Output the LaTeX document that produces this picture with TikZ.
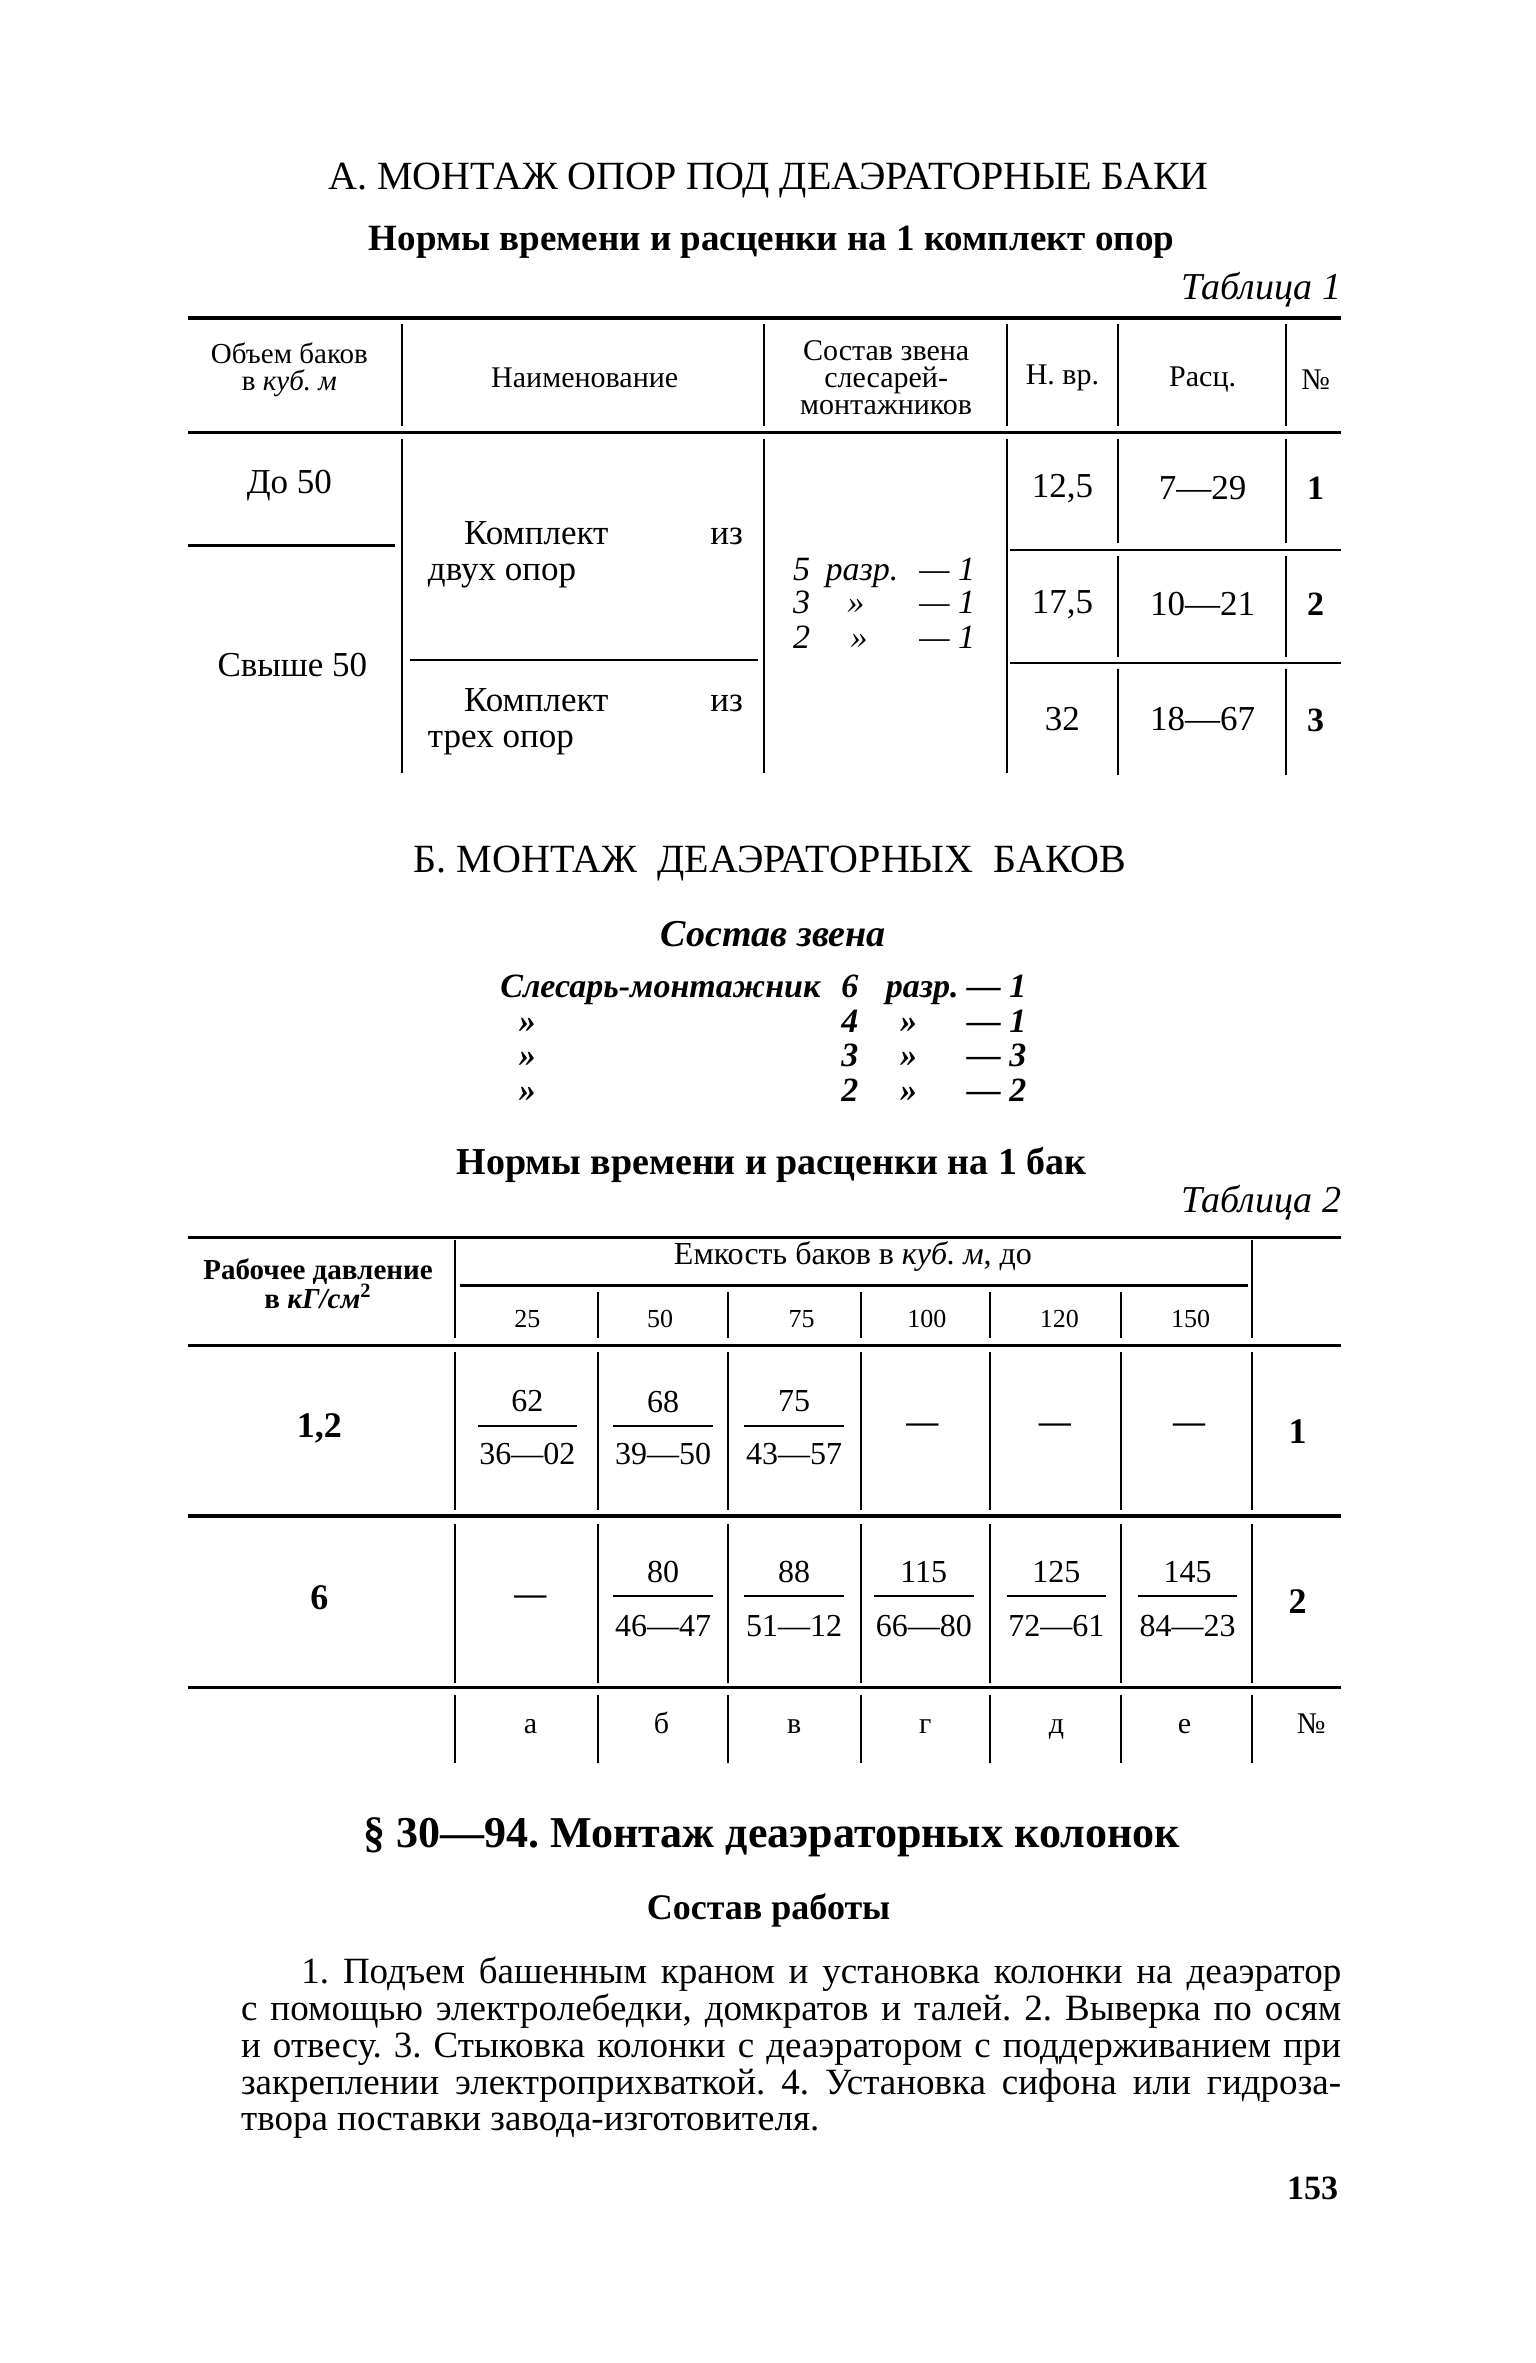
\documentclass[tikz,border=0pt]{standalone}
\usepackage{fontspec}
\setmainfont{Liberation Serif}
\newcommand\myfs[1]{\fontsize{#1}{#1}\selectfont}
\newcommand\myfsb[2]{\fontsize{#1}{#2}\selectfont}
\begin{document}
\frenchspacing
\begin{tikzpicture}[x=0.7532pt,y=-0.7532pt,
  t/.style={inner sep=0pt,outer sep=0pt},
  hr/.style={line width=1.6pt},
  vr/.style={line width=1.0pt},
  fb/.style={line width=1.1pt}]
\useasboundingbox[fill=white] (0,0) rectangle (1019,1568);

% ---------- Section A ----------
\node[t,font=\myfs{20}] (titleA) at (510,120) {А. МОНТАЖ ОПОР ПОД ДЕАЭРАТОРНЫЕ БАКИ};
\node[t,font=\bfseries\myfs{18.5}] (normsA) at (512,161) {Нормы времени и расценки на 1 комплект опор};
\node[t,font=\itshape\myfs{19},anchor=east] (tabA) at (890,192) {Таблица 1};

% Table 1 rules
\draw[hr] (125,211) -- (890,211);
\foreach \x in {267,507,668,742,853} \draw[vr] (\x,215) -- (\x,283);
\draw[hr] (125,287) -- (890,287);
\foreach \x in {267,507,668} \draw[vr] (\x,291) -- (\x,513);
\foreach \x in {742,853} {\draw[vr] (\x,291) -- (\x,360); \draw[vr] (\x,369) -- (\x,436); \draw[vr] (\x,444) -- (\x,514);}
\draw[fb] (125,362) -- (262,362);
\draw[fb] (272,438) -- (503,438);
\draw[fb] (670,365) -- (890,365);
\draw[fb] (670,440) -- (890,440);

% Table 1 header
\node[t,font=\myfs{14.5},anchor=base] (h1a) at (192,241) {Объем баков};
\node[t,font=\myfs{14.5},anchor=base] (h1b) at (192,259) {в \textit{куб. м}};
\node[t,font=\myfs{15}] (h2) at (388,251) {Наименование};
\node[t,font=\myfs{15},anchor=base] (h3a) at (588,239) {Состав звена};
\node[t,font=\myfs{15},anchor=base] (h3b) at (588,257) {слесарей-};
\node[t,font=\myfs{15},anchor=base] (h3c) at (588,275) {монтажников};
\node[t,font=\myfs{15}] (h4) at (705,251) {Н. вр.};
\node[t,font=\myfs{15}] (h5) at (798,252) {Расц.};
\node[t,font=\myfs{15}] (h6) at (873,252) {№};

% Table 1 body
\node[t,font=\myfs{17.5}] (v1) at (192,322) {До 50};
\node[t,font=\myfs{17.5}] (v2) at (194,441) {Свыше 50};
\node[t,font=\myfs{17.5},anchor=base west] (k1a) at (308,361) {Комплект};
\node[t,font=\myfs{17.5},anchor=base east] (k1b) at (493,361) {из};
\node[t,font=\myfs{17.5},anchor=base west] (k1c) at (284,385) {двух опор};
\node[t,font=\myfs{17.5},anchor=base west] (k2a) at (308,472) {Комплект};
\node[t,font=\myfs{17.5},anchor=base east] (k2b) at (493,472) {из};
\node[t,font=\myfs{17.5},anchor=base west] (k2c) at (284,496) {трех опор};

\foreach \yy/\dg/\mid/\mx [count=\i] in {385/5/разр./572, 407/3/»/568, 430/2/»/570} {
  \node[t,font=\itshape\myfs{17},anchor=base] (s\i a) at (532,\yy) {\dg};
  \node[t,font=\itshape\myfs{17},anchor=base] (s\i b) at (\mx,\yy) {\mid};
  \node[t,font=\itshape\myfs{17},anchor=base east] (s\i c) at (647,\yy) {— 1};
}

\node[t,font=\myfs{17.5}] (r1a) at (705,324) {12,5};
\node[t,font=\myfs{17.5}] (r1b) at (798,324) {7—29};
\node[t,font=\bfseries\myfs{17}] (r1c) at (873,324) {1};
\node[t,font=\myfs{17.5}] (r2a) at (705,401) {17,5};
\node[t,font=\myfs{17.5}] (r2b) at (798,401) {10—21};
\node[t,font=\bfseries\myfs{17}] (r2c) at (873,401) {2};
\node[t,font=\myfs{17.5}] (r3a) at (705,477) {32};
\node[t,font=\myfs{17.5}] (r3b) at (798,477) {18—67};
\node[t,font=\bfseries\myfs{17}] (r3c) at (873,478) {3};

% ---------- Section B ----------
\node[t,font=\myfs{20}] (titleB) at (511,573) {Б. МОНТАЖ\ \ ДЕАЭРАТОРНЫХ\ \ БАКОВ};
\node[t,font=\bfseries\itshape\myfs{19}] (sostav) at (513,620) {Состав звена};
\node[t,font=\bfseries\itshape\myfs{17},anchor=base west] (c1a) at (332,662) {Слесарь-монтажник};
\node[t,font=\bfseries\itshape\myfs{17},anchor=base] (c1b) at (564,662) {6};
\node[t,font=\bfseries\itshape\myfs{17},anchor=base] (c1c) at (612,662) {разр.};
\node[t,font=\bfseries\itshape\myfs{17},anchor=base east] (c1d) at (681,662) {— 1};
\foreach \yy/\dg/\nn [count=\i from 2] in {685/4/1, 708/3/3, 731/2/2} {
  \node[t,font=\bfseries\itshape\myfs{17},anchor=base] (c\i a) at (350,\yy) {»};
  \node[t,font=\bfseries\itshape\myfs{17},anchor=base] (c\i b) at (564,\yy) {\dg};
  \node[t,font=\bfseries\itshape\myfs{17},anchor=base] (c\i c) at (603,\yy) {»};
  \node[t,font=\bfseries\itshape\myfs{17},anchor=base east] (c\i d) at (681,\yy) {— \nn};
}
\node[t,font=\bfseries\myfs{19}] (normsB) at (512,773) {Нормы времени и расценки на 1 бак};
\node[t,font=\itshape\myfs{19},anchor=east] (tabB) at (890,798) {Таблица 2};

% Table 2 rules
\draw[hr] (125,821) -- (890,821);
\foreach \x in {302,831} \draw[vr] (\x,823) -- (\x,888);
\draw[fb] (305,853) -- (828,853);
\foreach \x in {397,483,571,657,744} \draw[vr] (\x,857) -- (\x,888);
\draw[hr] (125,893) -- (890,893);
\draw[hr] (125,1006) -- (890,1006);
\draw[hr] (125,1120) -- (890,1120);
\foreach \x in {302,397,483,571,657,744,831} {
  \draw[vr] (\x,897) -- (\x,1002);
  \draw[vr] (\x,1011) -- (\x,1117);
  \draw[vr] (\x,1125) -- (\x,1170);
}

% Table 2 header
\node[t,font=\bfseries\myfs{14.5},anchor=base] (p1a) at (211,849) {Рабочее давление};
\node[t,font=\bfseries\myfs{14.5},anchor=base] (p1b) at (211,868) {в \textit{кГ/см}\textsuperscript{2}};
\node[t,font=\myfs{16}] (cap) at (566,834) {Емкость баков в \textit{куб. м}, до};
\foreach \cx/\v [count=\i] in {350/25, 438/50, 532/75, 615/100, 703/120, 790/150}
  \node[t,font=\myfs{13}] (hc\i) at (\cx,875) {\v};

% Table 2 row 1
\node[t,font=\bfseries\myfs{18}] (rowA) at (212,948) {1,2};
\foreach \cx/\num/\den [count=\i] in {350/62/36—02, 440/68/39—50, 527/75/43—57} {
  \node[t,font=\myfs{16}] (an\i) at (\cx,930) {\num};
  \node[t,font=\myfs{16}] (ad\i) at (\cx,965) {\den};
  \draw[fb] ({\cx-33},946) -- ({\cx+33},946);
}
\foreach \cx [count=\i] in {612,700,789}
  \node[t,font=\bfseries\myfs{16}] (ae\i) at (\cx,948) {—};
\node[t,font=\bfseries\myfs{18}] (nA) at (861,950) {1};

% Table 2 row 2
\node[t,font=\bfseries\myfs{18}] (rowB) at (212,1060) {6};
\node[t,font=\bfseries\myfs{16}] (be0) at (352,1062) {—};
\foreach \cx/\num/\den [count=\i] in {440/80/46—47, 527/88/51—12, 613/115/66—80, 701/125/72—61, 788/145/84—23} {
  \node[t,font=\myfs{16}] (bn\i) at (\cx,1043) {\num};
  \node[t,font=\myfs{16}] (bd\i) at (\cx,1079) {\den};
  \draw[fb] ({\cx-33},1059) -- ({\cx+33},1059);
}
\node[t,font=\bfseries\myfs{18}] (nB) at (861,1063) {2};

% Table 2 footer
\foreach \cx/\l [count=\i] in {352/а, 439/б, 527/в, 614/г, 701/д, 786/е, 870/№}
  \node[t,font=\myfs{15},anchor=base] (fl\i) at (\cx,1150) {\l};

% ---------- Section 30-94 ----------
\node[t,font=\bfseries\myfs{22}] (sec) at (512,1219) {§ 30—94. Монтаж деаэраторных колонок};
\node[t,font=\bfseries\myfs{18}] (sr) at (510,1268) {Состав работы};
\node[t,font=\myfs{18.5},anchor=base west] (L1) at (200,1316) {\makebox[519.7pt][s]{1. Подъем башенным краном и установка колонки на деаэратор}};
\node[t,font=\myfs{18.5},anchor=base west] (L2) at (160,1341) {\makebox[549.8pt][s]{с помощью электролебедки, домкратов и талей. 2. Выверка по осям}};
\node[t,font=\myfs{18.5},anchor=base west] (L3) at (160,1365) {\makebox[549.8pt][s]{и отвесу. 3. Стыковка колонки с деаэратором с поддерживанием при}};
\node[t,font=\myfs{18.5},anchor=base west] (L4) at (160,1390) {\makebox[549.8pt][s]{закреплении электроприхваткой. 4. Установка сифона или гидроза-}};
\node[t,font=\myfs{18.5},anchor=base west] (L5) at (160,1414) {твора поставки завода-изготовителя.};
\node[t,font=\bfseries\myfs{17},anchor=east] (pg) at (888,1452) {153};
\end{tikzpicture}
\end{document}
